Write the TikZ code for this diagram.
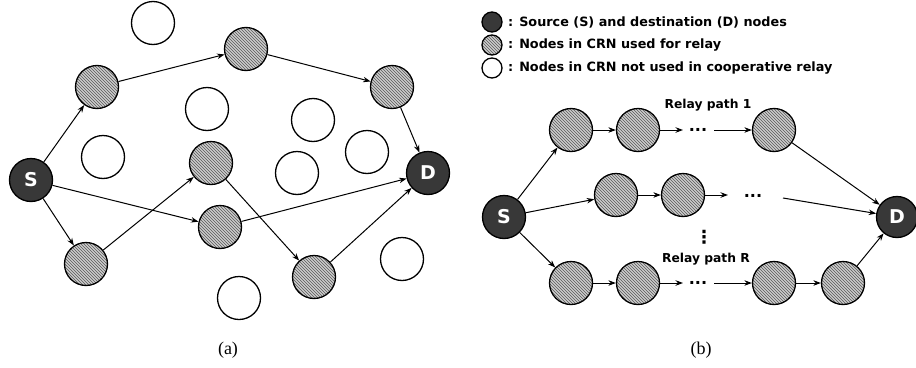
\documentclass[tikz,border=0pt]{standalone}
\usepackage{fontspec}
\setmainfont{DejaVu Sans}
\newfontfamily\capfont{Liberation Serif}
\usetikzlibrary{patterns,arrows.meta}
\tikzset{
  every node/.style={inner sep=0pt},
  base/.style={circle, draw=black, line width=1.3pt, minimum size=43pt},
  sd/.style={base, fill=black!78, text=white, font=\bfseries\fontsize{19}{19}\selectfont},
  relay/.style={base, preaction={fill=gray!40}, pattern=north west lines, pattern color=black!65},
  idle/.style={base, fill=white},
  lsd/.style={sd, minimum size=20pt},
  lrelay/.style={relay, minimum size=20pt},
  lidle/.style={idle, minimum size=20pt},
  lbl/.style={font=\bfseries\fontsize{12.8}{15}\selectfont, anchor=west},
  plbl/.style={font=\bfseries\fontsize{12.3}{14}\selectfont},
  conn/.style={line width=1pt, -{Stealth[length=7.5pt,width=5.5pt]}},
  dotsnode/.style={font=\bfseries\fontsize{16}{16}\selectfont},
  capt/.style={font=\capfont\fontsize{18}{18}\selectfont}
}
\begin{document}
\begin{tikzpicture}[x=1pt,y=-1pt]
\useasboundingbox (0,0) rectangle (916,367);
% ---------- panel (a)
\node[idle] (e1) at (153,23) {};
\node[idle] (e2) at (207,109) {};
\node[idle] (e3) at (313,120) {};
\node[idle] (e4) at (103,157) {};
\node[idle] (e5) at (367,152) {};
\node[idle] (e6) at (297,173) {};
\node[idle] (e7) at (402,259) {};
\node[idle] (e8) at (239,298) {};
\node[sd] (S) at (31,180) {S};
\node[sd] (D) at (428,173) {D};
\node[relay] (rA) at (246,49) {};
\node[relay] (rB) at (97,87) {};
\node[relay] (rC) at (392,87) {};
\node[relay] (rE) at (211,163) {};
\node[relay] (rF) at (220,227) {};
\node[relay] (rG) at (86,264) {};
\node[relay] (rH) at (314,277) {};
\draw[conn] (S) -- (rB);
\draw[conn] (rB) -- (rA);
\draw[conn] (rA) -- (rC);
\draw[conn] (rC) -- (D);
\draw[conn] (S) -- (rF);
\draw[conn] (rF) -- (D);
\draw[conn] (S) -- (rG);
\draw[conn] (rG) -- (rE);
\draw[conn] (rE) -- (rH);
\draw[conn] (rH) -- (D);
\node[capt] (capa) at (228,350) {(a)};
% ---------- legend
\node[lsd] (l1) at (492,22) {};
\node[lrelay] (l2) at (492,45) {};
\node[lidle] (l3) at (492,68) {};
\node[lbl] (t1) at (508,22) {: Source (S) and destination (D) nodes};
\node[lbl] (t2) at (508,45) {: Nodes in CRN used for relay};
\node[lbl] (t3) at (508,68) {: Nodes in CRN not used in cooperative relay};
% ---------- panel (b)
\node[sd] (S2) at (504,217) {S};
\node[sd, minimum size=41pt] (D2) at (897,217) {D};
\node[relay] (p11) at (571,130) {};
\node[relay] (p12) at (638,130) {};
\node[relay] (p13) at (774,130) {};
\node[relay] (p21) at (616,195) {};
\node[relay] (p22) at (683,195) {};
\node[relay] (p31) at (571,283) {};
\node[relay] (p32) at (638,283) {};
\node[relay] (p33) at (774,283) {};
\node[relay] (p34) at (843,283) {};
\node[dotsnode] (d1) at (698,130) {...};
\node[dotsnode] (d2) at (753,196) {...};
\node[dotsnode] (d3) at (698,283) {...};
\node[dotsnode, font=\bfseries\fontsize{18}{18}\selectfont] (dv) at (704,237) {⋮};
\node[plbl] (rp1) at (708,105) {Relay path 1};
\node[plbl] (rpR) at (706,259) {Relay path R};
\coordinate (a1e) at (683,130);
\coordinate (a1s) at (714,130);
\coordinate (a2e) at (728,195);
\coordinate (a2s) at (783,198);
\coordinate (a3e) at (683,283);
\coordinate (a3s) at (714,283);
\draw[conn] (S2) -- (p11);
\draw[conn] (p11) -- (p12);
\draw[conn] (p12) -- (a1e);
\draw[conn] (a1s) -- (p13);
\draw[conn] (p13) -- (D2);
\draw[conn] (S2) -- (p21);
\draw[conn] (p21) -- (p22);
\draw[conn] (p22) -- (a2e);
\draw[conn] (a2s) -- (D2);
\draw[conn] (S2) -- (p31);
\draw[conn] (p31) -- (p32);
\draw[conn] (p32) -- (a3e);
\draw[conn] (a3s) -- (p33);
\draw[conn] (p33) -- (p34);
\draw[conn] (p34) -- (D2);
\node[capt] (capb) at (701,350) {(b)};
\end{tikzpicture}
\end{document}
